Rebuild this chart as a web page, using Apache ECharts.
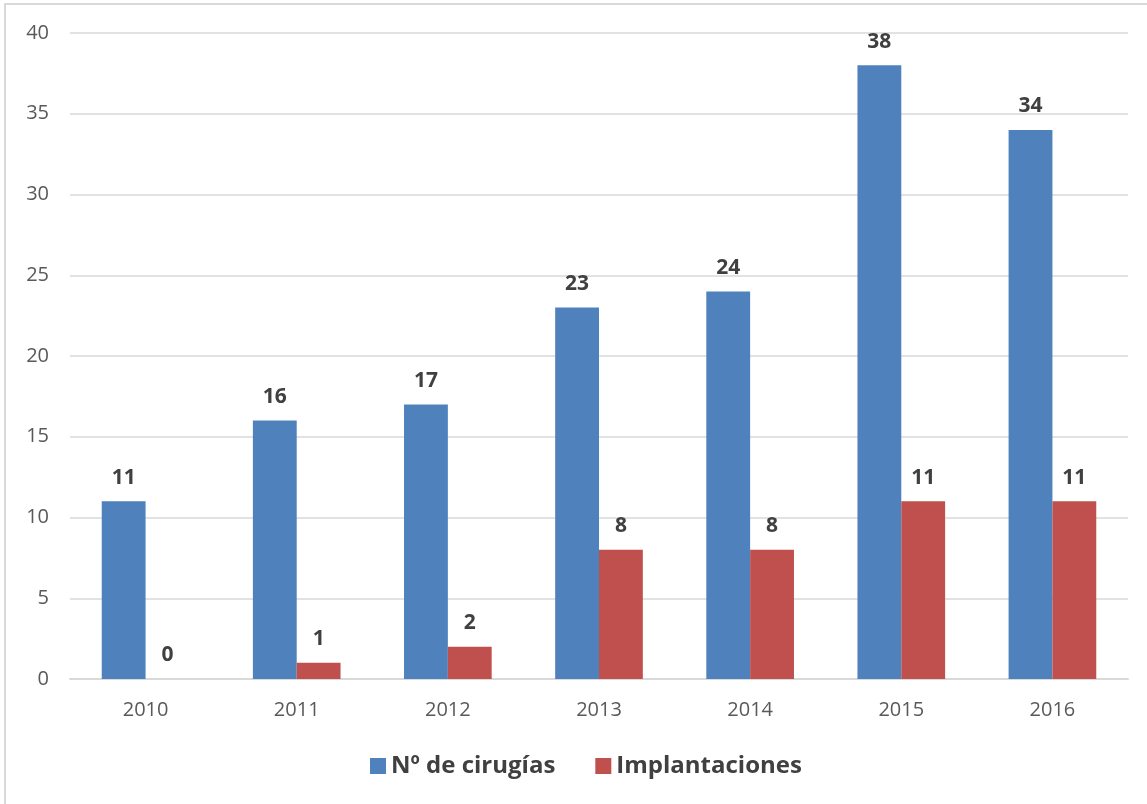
<!DOCTYPE html>
<html>
<head>
<meta charset="utf-8">
<script src="https://cdn.jsdelivr.net/npm/echarts@6/dist/echarts.min.js"></script>
<style>
  html, body { margin: 0; padding: 0; background: #fff; }
  #main { width: 1147px; height: 804px; }
</style>
</head>
<body>
<div id="main"></div>
<script>
// datos
var years = ['2010', '2011', '2012', '2013', '2014', '2015', '2016'];
var cirugias = [11, 16, 17, 23, 24, 38, 34];
var implantaciones = [0, 1, 2, 8, 8, 11, 11];

var chart = echarts.init(document.getElementById('main'));

var labelStyle = {
    show: true,
    position: 'top',
    distance: 13,
    fontFamily: 'Open Sans',
    fontWeight: 'bold',
    fontSize: 21,
    color: '#404040'
};

var option = {
    animation: false,
    backgroundColor: '#fff',
    graphic: [{
        type: 'rect',
        shape: { x: 5, y: 4, width: 1160, height: 820 },
        style: { fill: 'none', stroke: '#d9d9d9', lineWidth: 2 },
        silent: true
    }],
    grid: {
        left: 70,
        right: 19,
        top: 33,
        bottom: 125
    },
    legend: {
        left: 365,
        bottom: 21,
        icon: 'rect',
        itemWidth: 16,
        itemHeight: 16,
        itemGap: 40,
        textStyle: {
            fontFamily: 'Open Sans',
            fontWeight: 'bold',
            fontSize: 24,
            color: '#404040'
        },
        data: ['Nº de cirugías', 'Implantaciones']
    },
    xAxis: {
        type: 'category',
        data: years,
        axisLine: { lineStyle: { color: '#d9d9d9', width: 2 } },
        axisTick: { show: false },
        axisLabel: {
            margin: 21,
            fontFamily: 'Open Sans',
            fontSize: 20,
            color: '#595959'
        }
    },
    yAxis: {
        type: 'value',
        min: 0,
        max: 40,
        interval: 5,
        axisLine: { show: false },
        axisTick: { show: false },
        splitLine: { lineStyle: { color: '#d9d9d9', width: 1.5 } },
        axisLabel: {
            margin: 21,
            fontFamily: 'Open Sans',
            fontSize: 20,
            color: '#595959'
        }
    },
    series: [{
        name: 'Nº de cirugías',
        type: 'bar',
        data: cirugias,
        barGap: '0%',
        barCategoryGap: '42%',
        itemStyle: { color: '#4f81bd' },
        label: labelStyle
    }, {
        name: 'Implantaciones',
        type: 'bar',
        data: implantaciones,
        itemStyle: { color: '#c0504d' },
        label: labelStyle
    }]
};

chart.setOption(option);
</script>
</body>
</html>
